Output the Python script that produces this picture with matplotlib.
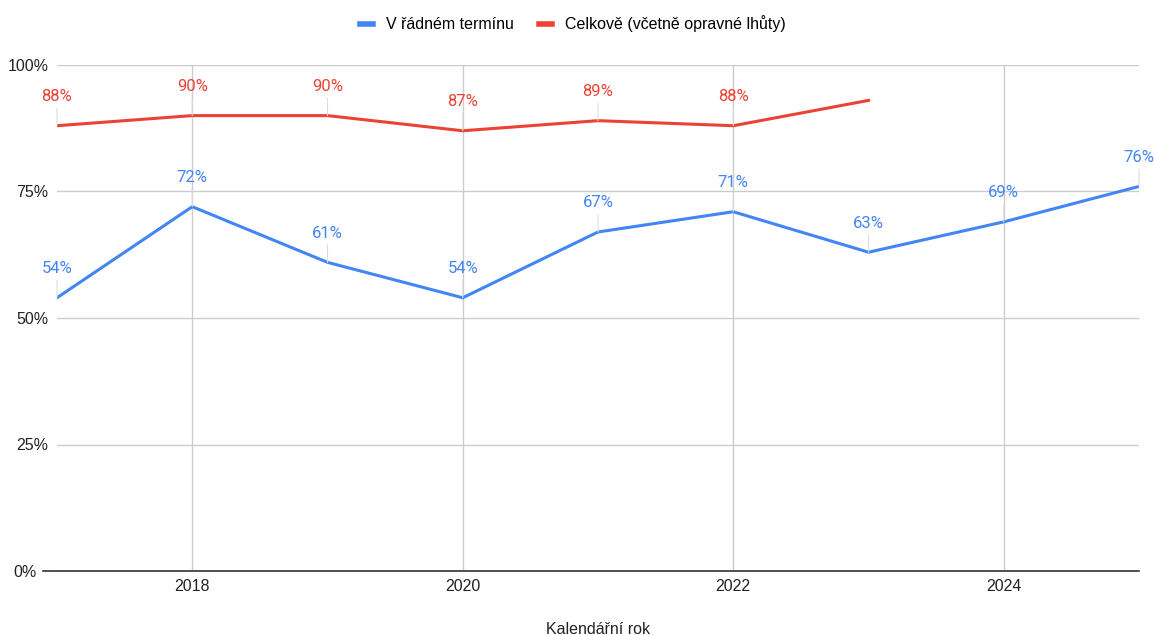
import matplotlib
matplotlib.use("Agg")
import matplotlib.pyplot as plt
import matplotlib.transforms as mtransforms
from matplotlib.lines import Line2D

years = [2017, 2018, 2019, 2020, 2021, 2022, 2023, 2024, 2025]
on_time = [54, 72, 61, 54, 67, 71, 63, 69, 76]
total_years = [2017, 2018, 2019, 2020, 2021, 2022, 2023]
total = [88, 90, 90, 87, 89, 88, 93]
total_labels = ["88%", "90%", "90%", "87%", "89%", "88%", None]
on_time_labels = [f"{v}%" for v in on_time]

xticks = [2018, 2020, 2022, 2024]
yticks = [0, 25, 50, 75, 100]
ytick_labels = ["0%", "25%", "50%", "75%", "100%"]

blue = "#4285f4"
red = "#ea4335"

fig = plt.figure(figsize=(11.55, 6.35), dpi=100)
ax = fig.add_axes([57/1155, 1 - 571/635, (1139-57)/1155, (571-65)/635])
ax.set_xlim(2017, 2025)
ax.set_ylim(0, 100)

for s in ["top", "right", "left"]:
    ax.spines[s].set_visible(False)
ax.spines["bottom"].set_color("#333333")
ax.spines["bottom"].set_linewidth(1.2)
ax.spines["bottom"].set_bounds(2017 - 14/135.25, 2025)
ax.spines["bottom"].set_zorder(5)

ax.set_yticks(yticks)
ax.set_yticklabels(ytick_labels, fontfamily="Liberation Sans", fontsize=11.5, color="#222222")
ax.set_xticks(xticks)
ax.set_xticklabels([str(x) for x in xticks], fontfamily="Liberation Sans", fontsize=11.5, color="#222222")
ax.tick_params(axis="x", length=0, pad=6)
ax.tick_params(axis="y", length=0, pad=6)
ax.grid(True, color="#cccccc", linewidth=1)
ax.set_axisbelow(True)

# zero label sits left of the extended baseline
zero_lab = ax.get_yticklabels()[0]
zero_lab.set_transform(zero_lab.get_transform() +
                       mtransforms.ScaledTranslation(-12/100, 0, fig.dpi_scale_trans))

ax.plot(years, on_time, color=blue, linewidth=2.2, zorder=3)
ax.plot(total_years, total, color=red, linewidth=2.2, zorder=3)

def add_labels(xs, ys, labels, color):
    for x, y, lab in zip(xs, ys, labels):
        if lab is None:
            continue
        ax.annotate(lab, xy=(x, y), xytext=(0, 21), textcoords="offset points",
                    ha="center", va="center", fontsize=12, color=color,
                    fontfamily="Roboto", annotation_clip=False,
                    arrowprops=dict(arrowstyle="-", color="#dddddd", lw=0.8,
                                    shrinkA=1, shrinkB=0))

add_labels(years, on_time, on_time_labels, blue)
add_labels(total_years, total, total_labels, red)

ax.set_xlabel("Kalendářní rok", fontfamily="Liberation Sans", fontsize=11.5,
              color="#222222", labelpad=20)

handles = [Line2D([0], [0], color=blue, lw=4), Line2D([0], [0], color=red, lw=4)]
fig.legend(handles, ["V řádném termínu", "Celkově (včetně opravné lhůty)"],
           loc="center", bbox_to_anchor=(573/1155, 1 - 24/635), ncol=2, frameon=False,
           prop={"family": "Liberation Sans", "size": 11.5}, handlelength=0.8,
           columnspacing=1.6, handletextpad=0.8)

fig.savefig("out.png", dpi=100, facecolor="white")
